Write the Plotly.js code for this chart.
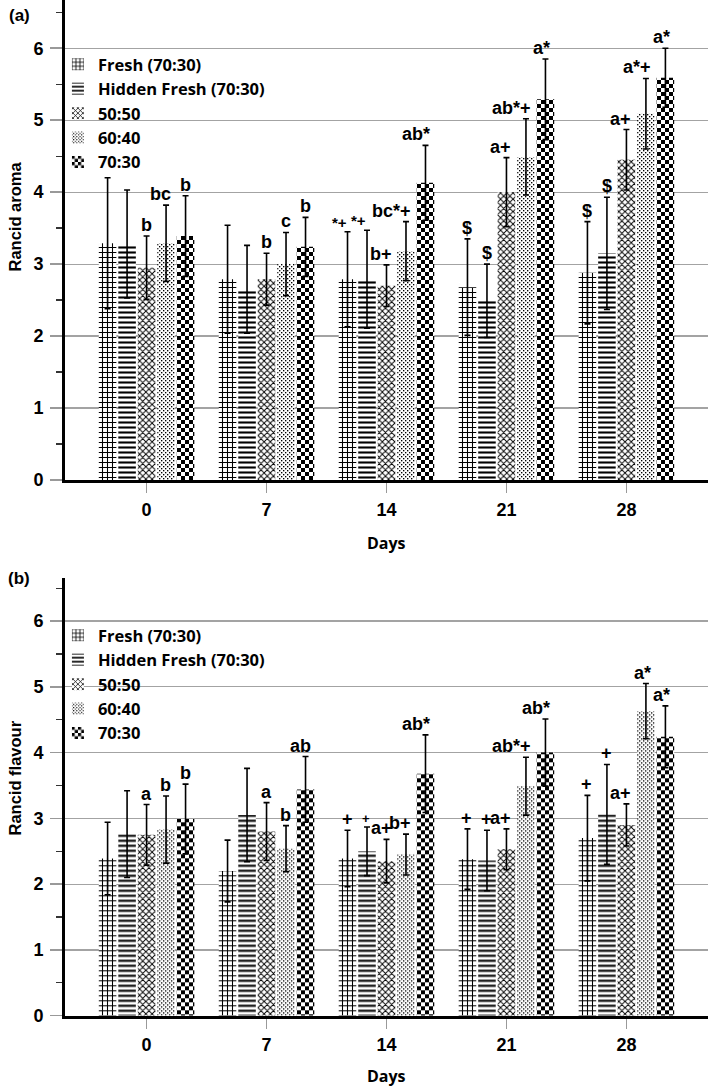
<!DOCTYPE html>
<html><head><meta charset="utf-8">
<script src="https://cdn.plot.ly/plotly-3.0.1.min.js"></script>
<style>html,body{margin:0;padding:0;background:#fff}</style>
</head><body><div id="chart" style="width:709px;height:1089px"></div>
<script>
// ---- data ----
const days = ['0', '7', '14', '21', '28'];
const seriesNames = ['Fresh (70:30)', 'Hidden Fresh (70:30)', '50:50', '60:40', '70:30'];

// (a) Rancid aroma
const aromaFresh   = [3.29, 2.79, 2.79, 2.68, 2.88];
const aromaHidden  = [3.28, 2.65, 2.79, 2.49, 3.15];
const aroma5050    = [2.95, 2.79, 2.70, 4.00, 4.45];
const aroma6040    = [3.29, 3.00, 3.18, 4.49, 5.09];
const aroma7030    = [3.39, 3.24, 4.13, 5.29, 5.59];
const aromaErrFresh  = [0.91, 0.75, 0.66, 0.67, 0.71];
const aromaErrHidden = [0.75, 0.61, 0.68, 0.51, 0.78];
const aromaErr5050   = [0.44, 0.36, 0.29, 0.48, 0.42];
const aromaErr6040   = [0.53, 0.44, 0.41, 0.53, 0.49];
const aromaErr7030   = [0.56, 0.41, 0.52, 0.56, 0.41];
const aromaLblFresh  = ['', '', '*+', '$', '$'];
const aromaLblHidden = ['', '', '*+', '$', '$'];
const aromaLbl5050   = ['b', 'b', 'b+', 'a+', 'a+'];
const aromaLbl6040   = ['bc', 'c', 'bc*+', 'ab*+', 'a*+'];
const aromaLbl7030   = ['b', 'b', 'ab*', 'a*', 'a*'];

// (b) Rancid flavour
const flavFresh   = [2.39, 2.20, 2.39, 2.38, 2.70];
const flavHidden  = [2.76, 3.05, 2.50, 2.36, 3.06];
const flav5050    = [2.75, 2.80, 2.35, 2.53, 2.90];
const flav6040    = [2.83, 2.54, 2.45, 3.49, 4.63];
const flav7030    = [2.99, 3.44, 3.68, 4.00, 4.24];
const flavErrFresh  = [0.55, 0.47, 0.43, 0.46, 0.65];
const flavErrHidden = [0.66, 0.71, 0.37, 0.46, 0.76];
const flavErr5050   = [0.46, 0.44, 0.33, 0.31, 0.32];
const flavErr6040   = [0.51, 0.35, 0.31, 0.44, 0.42];
const flavErr7030   = [0.53, 0.50, 0.59, 0.51, 0.47];
const flavLblFresh  = ['', '', '+', '+', '+'];
const flavLblHidden = ['', '', '+', '+', '+'];
const flavLbl5050   = ['a', 'a', 'a+', 'a+', 'a+'];
const flavLbl6040   = ['b', 'b', 'b+', 'ab*+', 'a*'];
const flavLbl7030   = ['b', 'ab', 'ab*', 'ab*', 'a*'];

// ---- assembly ----
const aromaVals = [aromaFresh, aromaHidden, aroma5050, aroma6040, aroma7030];
const aromaErrs = [aromaErrFresh, aromaErrHidden, aromaErr5050, aromaErr6040, aromaErr7030];
const aromaLbls = [aromaLblFresh, aromaLblHidden, aromaLbl5050, aromaLbl6040, aromaLbl7030];
const flavVals = [flavFresh, flavHidden, flav5050, flav6040, flav7030];
const flavErrs = [flavErrFresh, flavErrHidden, flavErr5050, flavErr6040, flavErr7030];
const flavLbls = [flavLblFresh, flavLblHidden, flavLbl5050, flavLbl6040, flavLbl7030];

// styling
const patterns = [
  {shape: '+', size: 5, solidity: 0.38},
  {shape: '-', size: 5, solidity: 0.42},
  {shape: 'x', size: 4.4, solidity: 0.38},
  {shape: '.', size: 4, solidity: 0.2},   // replaced by a stipple below
  {shape: '.', size: 8, solidity: 0.5}    // replaced by a checkerboard below
];
// labels that are printed smaller in the figure (panel-series-day)
const smallLabelStyle = {'a-0-2': {size: 15, xshift: 1}, 'a-1-2': {size: 15, xshift: 1}, 'b-1-2': {size: 13, xshift: 5}};

const BARGAP = 0.1875;
const traces = [];
function addPanel(vals, errs, xa, ya, leg, tag) {
  vals.forEach((v, j) => {
    traces.push({
      type: 'bar', name: seriesNames[j], x: days, y: v,
      xaxis: xa, yaxis: ya, legend: leg, legendgroup: tag + j,
      marker: {color: '#000', line: {width: 0},
        pattern: Object.assign({fgcolor: '#000', bgcolor: '#fff', fillmode: 'replace'}, patterns[j])},
      error_y: {type: 'data', array: errs[j], visible: true, color: '#000', thickness: 1.6, width: 3},
      hoverinfo: 'skip'
    });
  });
}
addPanel(aromaVals, aromaErrs, 'x', 'y', 'legend', 'a');
addPanel(flavVals, flavErrs, 'x2', 'y2', 'legend2', 'b');

const annotations = [];
const slot = (1 - BARGAP) / 5;
function addLabels(vals, errs, lbls, xr, yr, tag) {
  lbls.forEach((arr, j) => {
    arr.forEach((t, i) => {
      if (!t) return;
      const st = smallLabelStyle[tag + '-' + j + '-' + i] || {size: 18, xshift: 7};
      annotations.push({
        xref: xr, yref: yr, x: i + (j - 2) * slot, y: vals[j][i] + errs[j][i],
        text: t, showarrow: false, xanchor: 'right', yanchor: 'bottom', xshift: st.xshift, yshift: -1,
        font: {family: 'Liberation Sans, Arial, sans-serif', size: st.size, weight: 'bold', color: '#000'}
      });
    });
  });
}
addLabels(aromaVals, aromaErrs, aromaLbls, 'x', 'y', 'a');
addLabels(flavVals, flavErrs, flavLbls, 'x2', 'y2', 'b');

const titleFont = {family: 'Liberation Sans, Arial, sans-serif', size: 16.5, weight: 'bold', color: '#000'};
const daysFont = {family: 'Open Sans, sans-serif', size: 16, weight: 'bold', color: '#000'};
const panelFont = {family: 'Liberation Sans, Arial, sans-serif', size: 17, weight: 'bold', color: '#000'};
annotations.push(
  {xref: 'paper', yref: 'paper', x: -0.071, y: 1 - 15 / 1089, text: '(a)', showarrow: false, xanchor: 'center', yanchor: 'middle', font: panelFont},
  {xref: 'paper', yref: 'paper', x: -0.071, y: 1 - 578 / 1089, text: '(b)', showarrow: false, xanchor: 'center', yanchor: 'middle', font: panelFont},
  {xref: 'paper', yref: 'paper', x: -0.077, y: 1 - 216 / 1089, text: 'Rancid aroma', textangle: -90, showarrow: false, xanchor: 'center', yanchor: 'middle', font: titleFont},
  {xref: 'paper', yref: 'paper', x: -0.077, y: 1 - 778 / 1089, text: 'Rancid flavour', textangle: -90, showarrow: false, xanchor: 'center', yanchor: 'middle', font: titleFont},
  {xref: 'paper', yref: 'paper', x: (386 - 65) / 643, y: 1 - 543 / 1089, text: 'Days', showarrow: false, xanchor: 'center', yanchor: 'middle', font: daysFont},
  {xref: 'paper', yref: 'paper', x: (386 - 65) / 643, y: 1 - 1076 / 1089, text: 'Days', showarrow: false, xanchor: 'center', yanchor: 'middle', borderpad: 0, font: daysFont}
);

const tickFont = {family: 'Liberation Sans, Arial, sans-serif', size: 18, weight: 'bold', color: '#000'};
function xAxis(anchor) {
  return {domain: [0, 1], anchor: anchor, type: 'category', range: [-0.68, 4.68],
    showline: true, linecolor: '#000', linewidth: 3, ticks: 'outside', ticklen: 10, tickwidth: 1.5,
    tickcolor: '#999', tickfont: tickFont, showgrid: false, zeroline: false, ticklabelstandoff: 1, fixedrange: true};
}
function yAxis(anchor, domain, top) {
  return {domain: domain, anchor: anchor, range: [0, top], tick0: 0, dtick: 1,
    showline: true, linecolor: '#000', linewidth: 3, ticks: 'outside', ticklen: 12, tickwidth: 1.5,
    tickcolor: '#999', tickfont: tickFont, showgrid: true, gridcolor: '#a3a3a3', gridwidth: 1.2,
    zeroline: false, ticklabelstandoff: 3, fixedrange: true,
    minor: {dtick: 0.5, tick0: 0, ticks: 'outside', ticklen: 6, tickwidth: 1.3, tickcolor: '#333', showgrid: false}};
}
const legFont = {family: 'Open Sans, sans-serif', size: 16.5, weight: 'bold', color: '#000'};
const layout = {
  width: 709, height: 1089,
  margin: {l: 65, r: 1, t: 0, b: 0},
  paper_bgcolor: '#fff', plot_bgcolor: '#fff',
  barmode: 'group', bargap: BARGAP, bargroupgap: 0.1,
  showlegend: true,
  xaxis: xAxis('y'),
  yaxis: yAxis('x', [1 - 480 / 1089, 1], 6.67),
  xaxis2: xAxis('y2'),
  yaxis2: yAxis('x2', [1 - 1015.7 / 1089, 1 - 578.3 / 1089], 6.65),
  legend: {x: -0.011, xanchor: 'left', y: 1 - 47 / 1089, yanchor: 'top', bgcolor: 'rgba(0,0,0,0)',
    font: legFont, tracegroupgap: 0, traceorder: 'normal'},
  legend2: {x: -0.011, xanchor: 'left', y: 1 - 618 / 1089, yanchor: 'top', bgcolor: 'rgba(0,0,0,0)',
    font: legFont, tracegroupgap: 0, traceorder: 'normal'},
  annotations: annotations
};

// Plotly has no checkerboard / diagonal stipple fill: restyle the two dot patterns
function restylePatterns() {
  const NS = 'http://www.w3.org/2000/svg';
  document.querySelectorAll('#chart pattern').forEach(p => {
    if (!p.querySelector('circle')) return;
    const w = parseFloat(p.getAttribute('width'));
    if (!(w > 0)) return;
    while (p.firstChild) p.removeChild(p.firstChild);
    const mk = (x, y, s, f) => {
      const r = document.createElementNS(NS, 'rect');
      r.setAttribute('x', x); r.setAttribute('y', y);
      r.setAttribute('width', s); r.setAttribute('height', s);
      r.setAttribute('fill', f); p.appendChild(r);
    };
    mk(0, 0, w, '#fff');
    if (w >= 6) {           // checkerboard
      const h = w / 2;
      mk(0, 0, h, '#000'); mk(h, h, h, '#000');
    } else {                // fine diagonal stipple
      const h = w / 2, d = w * 0.34;
      mk(0, 0, d, '#000'); mk(h, h, d, '#000');
    }
  });
}
const gd = document.getElementById('chart');
Plotly.newPlot(gd, traces, layout, {displayModeBar: false, staticPlot: true}).then(() => {
  restylePatterns();
  gd.on && gd.on('plotly_afterplot', restylePatterns);
});
</script></body></html>
